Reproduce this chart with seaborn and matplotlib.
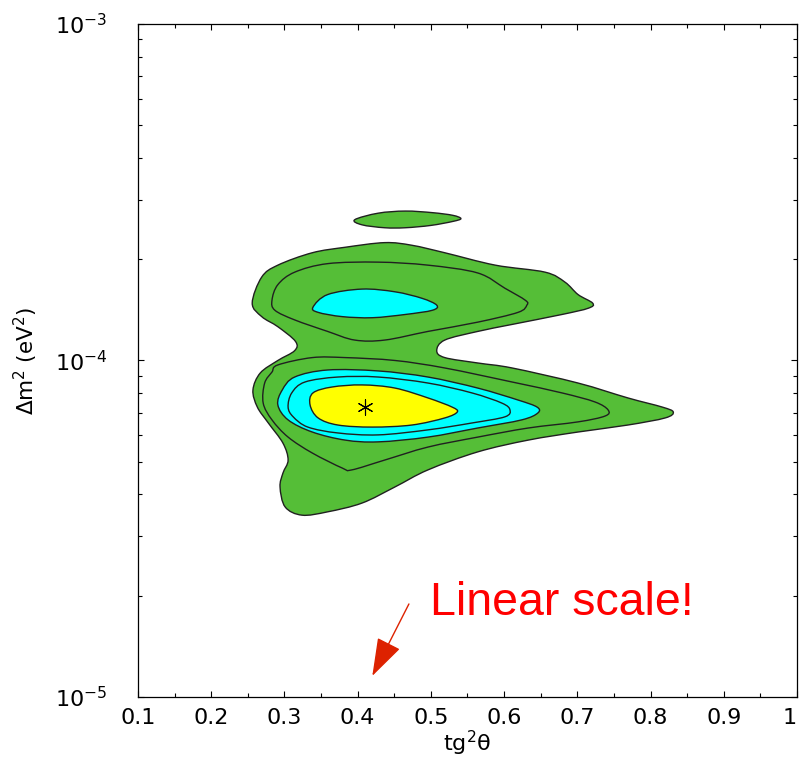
import numpy as np
import matplotlib
matplotlib.use("Agg")
import matplotlib.pyplot as plt
from matplotlib.path import Path
from matplotlib.patches import PathPatch
from matplotlib.ticker import MultipleLocator, FixedLocator, LogLocator, LogFormatterSciNotation, NullFormatter
import seaborn as sns

# ---- allowed-region contours in the (tg^2 theta, dm^2) plane ----
# dm^2 values are in units of 1e-5 eV^2

# outermost allowed region (filled green)
outer_x = [0.256, 0.269, 0.291, 0.338, 0.383, 0.437, 0.474, 0.519, 0.588, 0.656,
           0.683, 0.701, 0.721, 0.715, 0.679, 0.611, 0.564, 0.519, 0.508, 0.519,
           0.564, 0.611, 0.701, 0.769, 0.816, 0.831, 0.820, 0.769, 0.701, 0.633,
           0.564, 0.496, 0.451, 0.406, 0.359, 0.324, 0.301, 0.294, 0.298, 0.305,
           0.298, 0.278, 0.263, 0.257, 0.267, 0.291, 0.314, 0.315, 0.291,
           0.269]
outer_dm = [14.8, 17.7, 19.2, 20.9, 21.7, 22.4, 22.0, 20.9, 19.2, 18.3,
            17.1, 15.7, 14.8, 14.3, 13.7, 12.8, 12.2, 11.5, 10.7, 10.2,
            9.83, 9.50, 8.57, 7.74, 7.27, 7.03, 6.75, 6.43, 6.13, 5.80,
            5.35, 4.73, 4.21, 3.77, 3.55, 3.47, 3.67, 4.21, 4.63, 5.06,
            5.68, 6.52, 7.27, 8.17, 9.18, 10.0, 10.7, 11.4, 12.6,
            13.5]

# small isolated island at large dm^2 (filled green)
island_x = [0.396, 0.428, 0.465, 0.502, 0.530, 0.541, 0.530, 0.500, 0.465, 0.437, 0.406]
island_dm = [26.2, 27.4, 27.8, 27.5, 27.0, 26.4, 25.9, 25.2, 24.8, 24.8, 25.3]

# upper lobe: intermediate contour line
upper_line_x = [0.283, 0.291, 0.314, 0.359, 0.428, 0.496, 0.564, 0.601, 0.629, 0.631,
                0.619, 0.564, 0.496, 0.437, 0.396, 0.359, 0.314, 0.287]
upper_line_dm = [15.1, 16.8, 18.3, 19.4, 19.6, 19.2, 18.2, 16.4, 15.1, 14.6,
                 13.9, 13.0, 12.2, 11.5, 11.5, 12.2, 13.2, 14.1]

# upper lobe: inner region (filled cyan)
upper_cyan_x = [0.339, 0.359, 0.406, 0.451, 0.488, 0.508, 0.502, 0.465, 0.420, 0.379, 0.346]
upper_cyan_dm = [14.4, 15.7, 16.3, 16.0, 15.3, 14.6, 14.1, 13.7, 13.4, 13.5, 13.9]

# lower lobe: intermediate contour line
lower_line_x = [0.271, 0.273, 0.283, 0.291, 0.338, 0.383, 0.451, 0.519, 0.611, 0.679,
                0.724, 0.742, 0.738, 0.701, 0.633, 0.564, 0.496, 0.437, 0.392, 0.379,
                0.338, 0.305, 0.283]
lower_line_dm = [7.47, 8.57, 9.24, 9.70, 10.2, 10.2, 10.0, 9.50, 8.63, 8.01,
                 7.53, 7.13, 6.84, 6.57, 6.30, 5.92, 5.53, 5.06, 4.73, 4.79,
                 5.31, 5.92, 6.66]

# lower lobe: cyan region
lower_cyan_x = [0.291, 0.297, 0.314, 0.359, 0.428, 0.496, 0.564, 0.619, 0.645, 0.646,
                0.624, 0.564, 0.496, 0.428, 0.383, 0.338, 0.305]
lower_cyan_dm = [7.38, 8.17, 8.93, 9.37, 9.31, 8.93, 8.28, 7.63, 7.27, 6.98,
                 6.66, 6.30, 5.92, 5.73, 5.80, 6.13, 6.66]

# lower lobe: contour line inside the cyan region
inner_line_x = [0.305, 0.310, 0.328, 0.373, 0.428, 0.496, 0.556, 0.597, 0.608, 0.601,
                0.556, 0.496, 0.428, 0.373, 0.332, 0.312]
inner_line_dm = [7.27, 8.01, 8.63, 8.93, 8.93, 8.57, 8.01, 7.47, 7.13, 6.80,
                 6.52, 6.22, 6.01, 6.09, 6.34, 6.80]

# best-fit region (filled yellow)
yellow_x = [0.335, 0.339, 0.365, 0.406, 0.451, 0.496, 0.529, 0.536, 0.519, 0.474,
            0.420, 0.373, 0.346]
yellow_dm = [7.38, 8.01, 8.34, 8.46, 8.28, 7.74, 7.27, 7.03, 6.75, 6.43,
             6.34, 6.43, 6.75]

# best-fit point
best_x = [0.410]
best_dm = [7.27]

x_ticks = [0.1, 0.2, 0.3, 0.4, 0.5, 0.6, 0.7, 0.8, 0.9, 1.0]
x_tick_labels = ["0.1", "0.2", "0.3", "0.4", "0.5", "0.6", "0.7", "0.8", "0.9", "1"]

DM_UNIT = 1e-5

GREEN = "#55be37"
CYAN = "#00ffff"
YELLOW = "#ffff00"
EDGE = "#202020"

sns.set_style("ticks")
plt.rcParams["font.family"] = ["DejaVu Sans"]
plt.rcParams["mathtext.fontset"] = "dejavusans"
plt.rcParams["text.color"] = "black"
plt.rcParams["axes.labelcolor"] = "black"
plt.rcParams["xtick.color"] = "black"
plt.rcParams["ytick.color"] = "black"


def closed_curve(xs, dms):
    """Closed smooth path through the given points (Catmull-Rom as cubic Bezier,
    built in x / log10(dm^2) so it is smooth on the log axis)."""
    x = np.asarray(xs, float)
    ly = np.log10(np.asarray(dms, float) * DM_UNIT)
    n = len(x)
    verts = [(x[0], 10 ** ly[0])]
    codes = [Path.MOVETO]
    for i in range(n):
        i0, i1, i2, i3 = (i - 1) % n, i, (i + 1) % n, (i + 2) % n
        c1x = x[i1] + (x[i2] - x[i0]) / 6.0
        c1y = ly[i1] + (ly[i2] - ly[i0]) / 6.0
        c2x = x[i2] - (x[i3] - x[i1]) / 6.0
        c2y = ly[i2] - (ly[i3] - ly[i1]) / 6.0
        verts += [(c1x, 10 ** c1y), (c2x, 10 ** c2y), (x[i2], 10 ** ly[i2])]
        codes += [Path.CURVE4, Path.CURVE4, Path.CURVE4]
    verts.append(verts[0])
    codes.append(Path.CLOSEPOLY)
    return Path(verts, codes)


fig = plt.figure(figsize=(7.99, 7.59), dpi=100)
ax = fig.add_axes([0.1727, 0.0817, 0.8248, 0.8867])
ax.set_yscale("log")
ax.set_xlim(0.1, 1.0)
ax.set_ylim(1e-5, 1e-3)

layers = [
    (outer_x, outer_dm, GREEN),
    (island_x, island_dm, GREEN),
    (upper_line_x, upper_line_dm, None),
    (upper_cyan_x, upper_cyan_dm, CYAN),
    (lower_line_x, lower_line_dm, None),
    (lower_cyan_x, lower_cyan_dm, CYAN),
    (inner_line_x, inner_line_dm, None),
    (yellow_x, yellow_dm, YELLOW),
]
for z, (xs, dms, fc) in enumerate(layers):
    patch = PathPatch(closed_curve(xs, dms),
                      facecolor=fc if fc else "none",
                      edgecolor=EDGE, linewidth=1.0, zorder=2 + z * 0.1)
    ax.add_patch(patch)

sns.scatterplot(x=best_x, y=[v * DM_UNIT for v in best_dm], marker=(6, 2, 0),
                s=120, color="black", linewidth=0.8, ax=ax, zorder=5, legend=False)

# axes ticks
ax.xaxis.set_major_locator(FixedLocator(x_ticks))
ax.set_xticklabels(x_tick_labels)
ax.xaxis.set_minor_locator(MultipleLocator(0.05))
ax.yaxis.set_major_locator(LogLocator(base=10, numticks=10))
ax.yaxis.set_major_formatter(LogFormatterSciNotation())
ax.yaxis.set_minor_locator(LogLocator(base=10, subs=np.arange(2, 10), numticks=10))
ax.yaxis.set_minor_formatter(NullFormatter())

ax.tick_params(which="both", direction="in", top=True, right=True,
               color="black", labelcolor="black", width=0.8)
ax.tick_params(which="major", length=4.5)
ax.tick_params(which="minor", length=2.6)
ax.tick_params(axis="x", which="major", labelsize=16, pad=8)
ax.tick_params(axis="y", which="major", labelsize=16, pad=22)
# keep the last x label inside the figure edge
ax.get_xticklabels()[-1].set_horizontalalignment("right")
for sp in ax.spines.values():
    sp.set_linewidth(0.9)
    sp.set_color("black")
    sp.set_visible(True)

ax.set_xlabel("tg$^{2}$θ", fontsize=16, color="black")
ax.xaxis.set_label_coords(0.5, -0.048)
ax.set_ylabel("Δm$^{2}$ (eV$^{2}$)", fontsize=15.5, color="black")
ax.yaxis.set_label_coords(-0.148, 0.5)

# annotation about the horizontal axis
ax.annotate("", xy=(0.420, 1.155e-5), xytext=(0.470, 1.89e-5),
            arrowprops=dict(arrowstyle="-|>,head_length=2.4,head_width=0.8",
                            color="#dd2200", linewidth=1.0, shrinkA=0, shrinkB=0))
ax.text(0.499, 1.75e-5, "Linear scale!", color="#ff0000", fontsize=33.5,
        family=["Liberation Sans", "DejaVu Sans"], ha="left", va="baseline")

fig.savefig("out.png", dpi=100)
